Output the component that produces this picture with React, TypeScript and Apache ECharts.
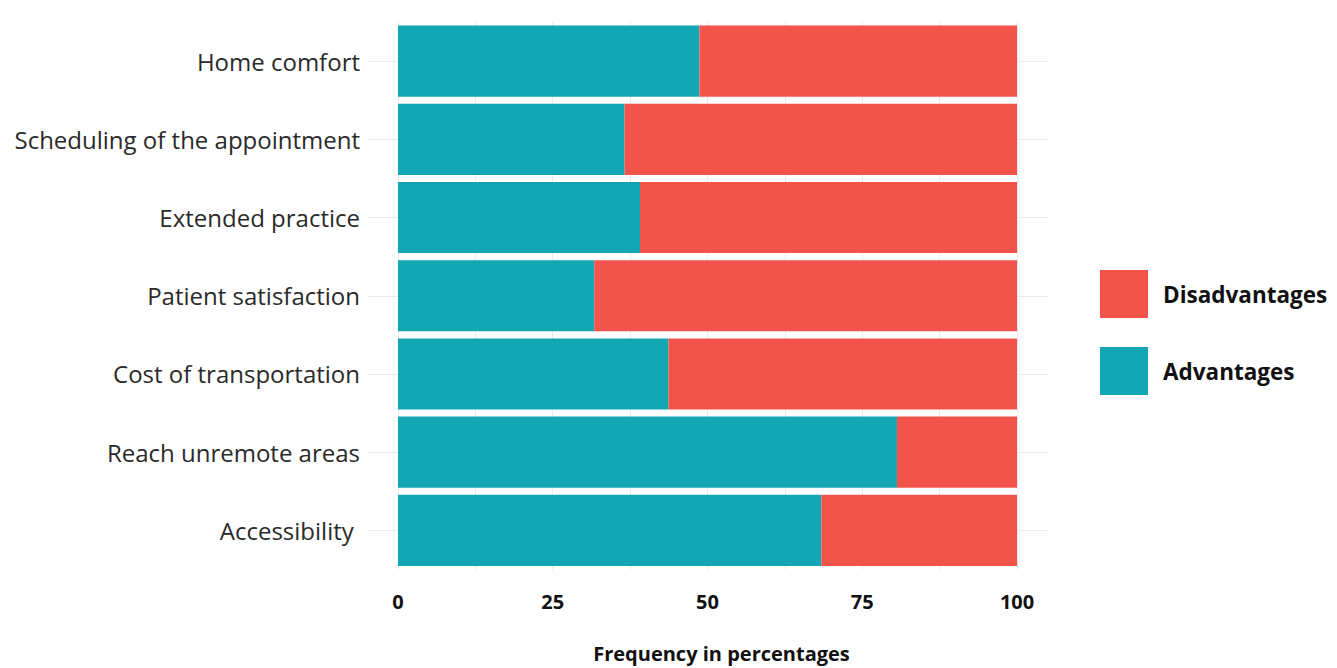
import React, { useEffect, useRef } from "react";
import * as echarts from "echarts";

const categories = [
  "Home comfort",
  "Scheduling of the appointment",
  "Extended practice",
  "Patient satisfaction",
  "Cost of transportation",
  "Reach unremote areas",
  "Accessibility ",
];
const advantages = [48.7, 36.6, 39.1, 31.7, 43.7, 80.6, 68.4];
const disadvantages = [51.3, 63.4, 60.9, 68.3, 56.3, 19.4, 31.6];
const xTicks = [0, 25, 50, 75, 100];
const xGrid = [0, 12.5, 25, 37.5, 50, 62.5, 75, 87.5, 100];

const TEAL = "#13a7b4";
const RED = "#f2544b";
const FONT = "'Open Sans', sans-serif";

export default function App() {
  const ref = useRef<HTMLDivElement>(null);
  useEffect(() => {
    if (!ref.current) return;
    const chart = echarts.init(ref.current, undefined, { renderer: "svg" });
    const gridLine = { color: "#ebebeb", width: 1, type: "solid" as const };
    chart.setOption({
      animation: false,
      backgroundColor: "#ffffff",
      textStyle: { fontFamily: FONT },
      grid: {
        left: 367,
        right: 289,
        top: 22,
        height: 547.5,
        containLabel: false,
        outerBoundsMode: "none",
      },
      legend: {
        orient: "vertical",
        left: 1100,
        top: 270,
        padding: 0,
        itemWidth: 48,
        itemHeight: 48,
        itemGap: 29,
        icon: "rect",
        data: ["Disadvantages", "Advantages"],
        textStyle: {
          fontFamily: FONT,
          fontSize: 22.5,
          fontWeight: "bold",
          color: "#111",
          padding: [0, 0, 0, 10],
        },
      },
      xAxis: {
        type: "value",
        min: -5,
        max: 105,
        axisLine: { show: false },
        axisTick: { show: false },
        splitLine: { show: false },
        axisLabel: {
          customValues: xTicks,
          fontSize: 20,
          fontWeight: "bold",
          color: "#111",
          margin: 22,
          fontFamily: FONT,
        },
        name: "Frequency in percentages",
        nameLocation: "middle",
        nameGap: 74,
        nameTextStyle: {
          fontSize: 20,
          lineHeight: 20,
          fontWeight: "bold",
          color: "#111",
          fontFamily: FONT,
          padding: [0, 0, 0, 28],
        },
      },
      yAxis: {
        type: "category",
        data: categories,
        inverse: true,
        axisLine: { show: false },
        axisTick: { show: false },
        splitLine: { show: false },
        axisLabel: {
          fontSize: 24,
          color: "#2a2a2a",
          margin: 7,
          fontFamily: FONT,
        },
      },
      series: [
        {
          name: "grid",
          type: "line",
          data: [],
          z: 0,
          silent: true,
          markLine: {
            silent: true,
            z: 0,
            symbol: "none",
            label: { show: false },
            lineStyle: gridLine,
            data: [
              ...xGrid.map((v) => ({ xAxis: v })),
              ...categories.map((c) => ({ yAxis: c })),
            ],
          },
        },
        {
          name: "Advantages",
          type: "bar",
          stack: "total",
          z: 2,
          barCategoryGap: "9%",
          itemStyle: { color: TEAL },
          data: advantages,
        },
        {
          name: "Disadvantages",
          type: "bar",
          stack: "total",
          z: 2,
          barCategoryGap: "9%",
          itemStyle: { color: RED },
          data: disadvantages,
        },
      ],
    });
    return () => chart.dispose();
  }, []);
  return (
    <div
      ref={ref}
      style={{ position: "absolute", left: 0, top: 0, width: 1337, height: 668 }}
    />
  );
}
